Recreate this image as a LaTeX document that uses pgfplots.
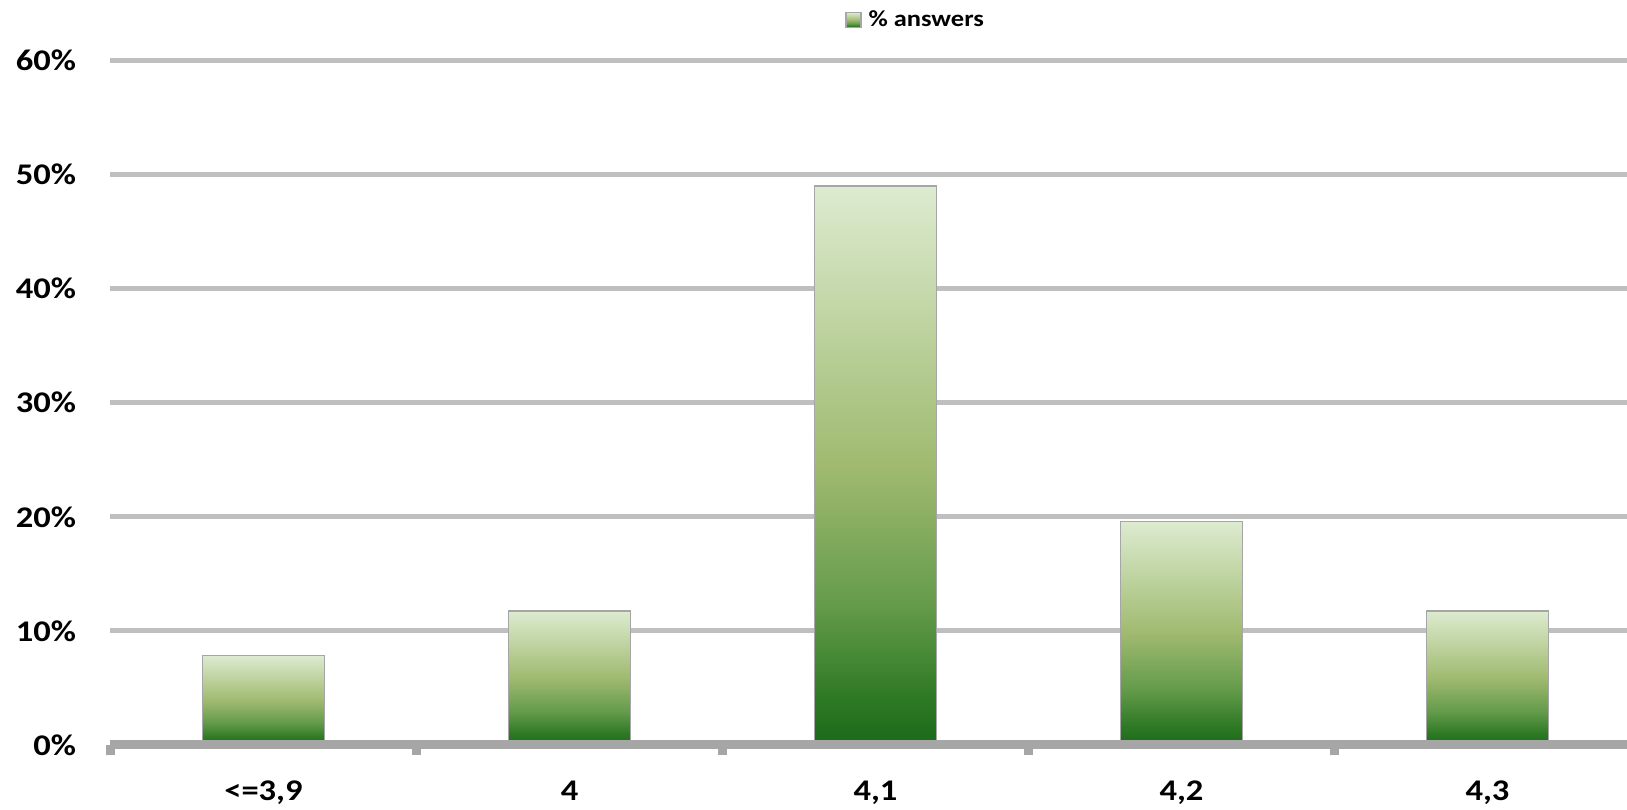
\documentclass[border=0pt]{standalone}
\usepackage{fontspec}
\setmainfont{Carlito}[FakeStretch=1.15]
\usepackage{pgfplots}
\pgfplotsset{compat=1.18}
\definecolor{gridc}{RGB}{191,191,191}
\definecolor{axisc}{RGB}{166,166,166}
\definecolor{gtop}{RGB}{221,235,208}
\definecolor{g75}{RGB}{190,211,160}
\definecolor{gmid}{RGB}{160,186,112}
\definecolor{g25}{RGB}{100,155,75}
\definecolor{g08}{RGB}{45,120,35}
\definecolor{gbot}{RGB}{26,106,26}
\pgfdeclareverticalshading{gbarshade}{100bp}{color(0bp)=(gbot); color(25bp)=(gbot); color(29bp)=(g08); color(37.5bp)=(g25); color(50bp)=(gmid); color(62.5bp)=(g75); color(75bp)=(gtop); color(100bp)=(gtop)}
\pgfplotsset{gbar/.style={ybar, bar width=61pt, bar shift=0pt, draw=axisc, line width=0.75pt,
  shading=gbarshade, shading angle=0}}
\begin{document}
\begin{tikzpicture}
\begin{axis}[
  name=ax,
  scale only axis, width=765pt, height=342.25pt,
  xmin=-0.5, xmax=4.5, ymin=0, ymax=60,
  axis lines*=left,
  y axis line style={draw=none},
  x axis line style={axisc, line width=4.5pt},
  tick align=outside,
  major tick length=5.25pt,
  xtick={-0.5,0.5,1.5,2.5,3.5,4.5},
  xticklabels={},
  x tick style={axisc, line width=4.5pt},
  extra x ticks={0,1,2,3,4},
  extra x tick labels={{<=3,9},{4},{4,1},{4,2},{4,3}},
  extra x tick style={major tick length=0pt, tick style={draw=none},
     xticklabel style={anchor=base, inner sep=0pt, yshift=-27.75pt}},
  ytick={0,10,20,30,40,50,60},
  yticklabels={0\%,10\%,20\%,30\%,40\%,50\%,60\%},
  y tick style={draw=none},
  yticklabel style={anchor=east, inner sep=0pt, xshift=-11.75pt},
  ymajorgrids,
  grid style={gridc, line width=2.5pt},
  tick label style={font=\fontsize{15}{18}\selectfont\bfseries},
  legend style={at={(0.480,1)}, anchor=west, yshift=20.25pt, draw=none, fill=none,
     inner sep=0pt, font=\fontsize{11.5}{13}\selectfont\bfseries, column sep=3.5pt,
     nodes={inner sep=0pt}},
  legend image code/.code={\path[draw=axisc, line width=0.6pt, shading=gbarshade, shading angle=0] (0pt,-3.75pt) rectangle (7.5pt,3.75pt);},
]
\addplot[gbar] coordinates {(0,7.84)};
\addlegendentry{\% answers}
\addplot[gbar, forget plot] coordinates {(1,11.76)};
\addplot[gbar, forget plot] coordinates {(2,49.02)};
\addplot[gbar, forget plot] coordinates {(3,19.61)};
\addplot[gbar, forget plot] coordinates {(4,11.76)};
\draw[axisc, line width=4.5pt] (rel axis cs:0,0) -- (rel axis cs:1,0);
\end{axis}
\pgfresetboundingbox
\useasboundingbox ([xshift=-55.25pt, yshift=-32.5pt]ax.south west) rectangle ([xshift=-6.75pt, yshift=30.25pt]ax.north east);
\end{tikzpicture}
\end{document}
